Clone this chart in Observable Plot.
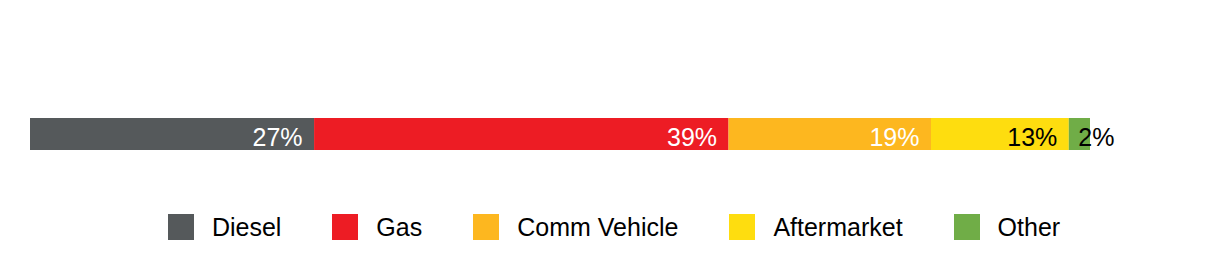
<!DOCTYPE html>
<html>
<head>
<meta charset="utf-8">
<script src="https://cdn.jsdelivr.net/npm/d3@7"></script>
<script src="https://cdn.jsdelivr.net/npm/@observablehq/plot@0.6"></script>
<style>
  body { margin: 0; background: #fff; font-family: "Liberation Sans", Arial, sans-serif; }
  #legend { display: flex; justify-content: center; align-items: center; height: 90px; box-sizing: border-box; padding-bottom: 16px; }
  .item { display: flex; align-items: center; margin: 0 25.5px; font-size: 25px; color: #000; }
  .sw { width: 26px; height: 26px; margin-right: 18px; }
</style>
</head>
<body>
<div id="chart"></div>
<div id="legend"></div>
<script>
const categories = ["Diesel", "Gas", "Comm Vehicle", "Aftermarket", "Other"];
const values = [26.8, 39.1, 19.1, 13.0, 2.0];
const colors = ["#55595b", "#ed1c24", "#fdb71f", "#fedd0f", "#70ad47"];
const labelColors = ["#ffffff", "#ffffff", "#ffffff", "#000000", "#000000"];
const insideEnd = [true, true, true, true, false];

const data = categories.map((name, i) => ({
  name, value: values[i], row: "share", lc: labelColors[i], inside: insideEnd[i]
}));

const chart = Plot.plot({
  width: 1228,
  height: 190,
  marginLeft: 30,
  marginRight: 138,
  marginTop: 118,
  marginBottom: 40,
  x: { domain: [0, 100], axis: null },
  y: { axis: null, padding: 0 },
  color: { domain: categories, range: colors },
  style: { fontFamily: "'Liberation Sans', Arial, sans-serif" },
  marks: [
    Plot.barX(data, Plot.stackX({ x: "value", y: "row", fill: "name", order: null })),
    Plot.text(data, Plot.stackX2({
      x: "value", y: "row", order: null,
      text: d => d.inside ? Math.round(d.value) + "%" : "",
      fill: d => d.lc, textAnchor: "end", dx: -12, dy: 3, fontSize: 25
    })),
    Plot.text(data, Plot.stackX1({
      x: "value", y: "row", order: null,
      text: d => d.inside ? "" : Math.round(d.value) + "%",
      fill: d => d.lc, textAnchor: "start", dx: 9, dy: 3, fontSize: 25
    }))
  ]
});
document.getElementById("chart").appendChild(chart);

const legend = document.getElementById("legend");
categories.forEach((c, i) => {
  const it = document.createElement("div");
  it.className = "item";
  const sw = document.createElement("div");
  sw.className = "sw";
  sw.style.background = colors[i];
  it.appendChild(sw);
  const t = document.createElement("span");
  t.textContent = c;
  it.appendChild(t);
  legend.appendChild(it);
});
</script>
</body>
</html>
